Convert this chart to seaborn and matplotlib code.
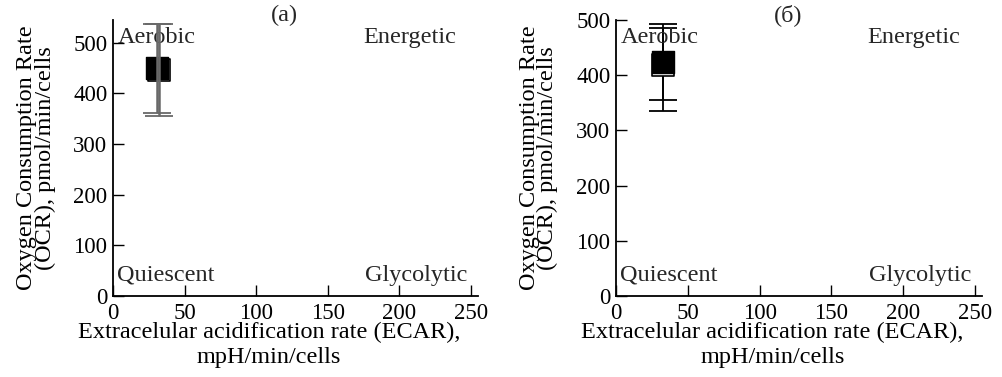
import matplotlib
matplotlib.use("Agg")
import matplotlib.pyplot as plt
import seaborn as sns
import pandas as pd

# Panel (a): open square, filled square
ecar_a = [32.3, 30.5]
ocr_a = [447, 450]
ocr_a_low = [356, 362]
ocr_a_high = [538, 538]

# Panel (б)
ecar_b = [32.4, 32.4]
ocr_b = [419, 423]
ocr_b_low = [335, 355]
ocr_b_high = [485, 493]

series = ["open", "filled"]
panel_titles = ["(a)", "(б)"]
quadrants = ["Aerobic", "Energetic", "Quiescent", "Glycolytic"]
x_ticks = [0, 50, 100, 150, 200, 250]
y_ticks = [0, 100, 200, 300, 400, 500]
x_label = "Extracelular acidification rate (ECAR),\nmpH/min/cells"
y_label = "Oxygen Consumption Rate\n(OCR), pmol/min/cells"

sns.set_theme(style="ticks")
plt.rcParams["font.family"] = ["Liberation Serif", "DejaVu Serif"]
FS_TICK = 16.5
FS_TEXT = 17.5


def draw_panel(ax, ecar, ocr, low, high, title, ymax, bar_color, bar_lw, bars_on_top):
    df = pd.DataFrame({"ecar": ecar, "ocr": ocr, "kind": series})
    yerr = [[o - l for o, l in zip(ocr, low)], [h - o for o, h in zip(ocr, high)]]
    z = 5 if bars_on_top else 1
    _, caps, bars = ax.errorbar(ecar, ocr, yerr=yerr, fmt="none", ecolor=bar_color,
                                elinewidth=bar_lw, capsize=10, capthick=1.3, zorder=z)
    for c in caps:
        c.set_color("black")
    sns.scatterplot(data=df[df["kind"] == "open"], x="ecar", y="ocr", ax=ax,
                    marker="s", s=230, color="white", edgecolor="black",
                    linewidth=1.2, zorder=3, legend=False)
    sns.scatterplot(data=df[df["kind"] == "filled"], x="ecar", y="ocr", ax=ax,
                    marker="s", s=230, color="black", edgecolor="black",
                    linewidth=1.0, zorder=4, legend=False)

    ax.set_xlim(0, 255)
    ax.set_ylim(0, ymax)
    ax.set_xticks(x_ticks)
    ax.set_yticks(y_ticks)
    ax.tick_params(direction="in", length=8, width=1, labelsize=FS_TICK, colors="black")
    ax.tick_params(axis="x", pad=5)
    ax.tick_params(axis="y", pad=4)
    for s in ["top", "right"]:
        ax.spines[s].set_visible(False)
    for s in ["left", "bottom"]:
        ax.spines[s].set_linewidth(1.3)
        ax.spines[s].set_color("black")

    ax.set_xlabel(x_label, fontsize=FS_TEXT, linespacing=1.2, color="black")
    ax.set_ylabel(y_label, fontsize=FS_TEXT, linespacing=0.85, color="black")
    ax.xaxis.set_label_coords(0.427, -0.095)
    ax.yaxis.set_label_coords(-0.212, 0.5)
    ax.yaxis.label.set_va("center")

    ax.text(0.012, 0.935, quadrants[0], transform=ax.transAxes, fontsize=FS_TEXT, ha="left", va="center")
    ax.text(0.94, 0.935, quadrants[1], transform=ax.transAxes, fontsize=FS_TEXT, ha="right", va="center")
    ax.text(0.012, 0.076, quadrants[2], transform=ax.transAxes, fontsize=FS_TEXT, ha="left", va="center")
    ax.text(0.97, 0.076, quadrants[3], transform=ax.transAxes, fontsize=FS_TEXT, ha="right", va="center")
    ax.text(0.47, 1.018, title, transform=ax.transAxes, fontsize=FS_TEXT, ha="center", va="center")


fig = plt.figure(figsize=(10.02, 3.77), dpi=100)
ax1 = fig.add_axes([0.1128, 0.2149, 0.3643, 0.7321])
ax2 = fig.add_axes([0.6148, 0.2149, 0.3653, 0.7321])

draw_panel(ax1, ecar_a, ocr_a, ocr_a_low, ocr_a_high, panel_titles[0], 545, "dimgray", 1.8, True)
draw_panel(ax2, ecar_b, ocr_b, ocr_b_low, ocr_b_high, panel_titles[1], 500, "black", 1.3, False)

fig.savefig("out.png", dpi=100, facecolor="white")
